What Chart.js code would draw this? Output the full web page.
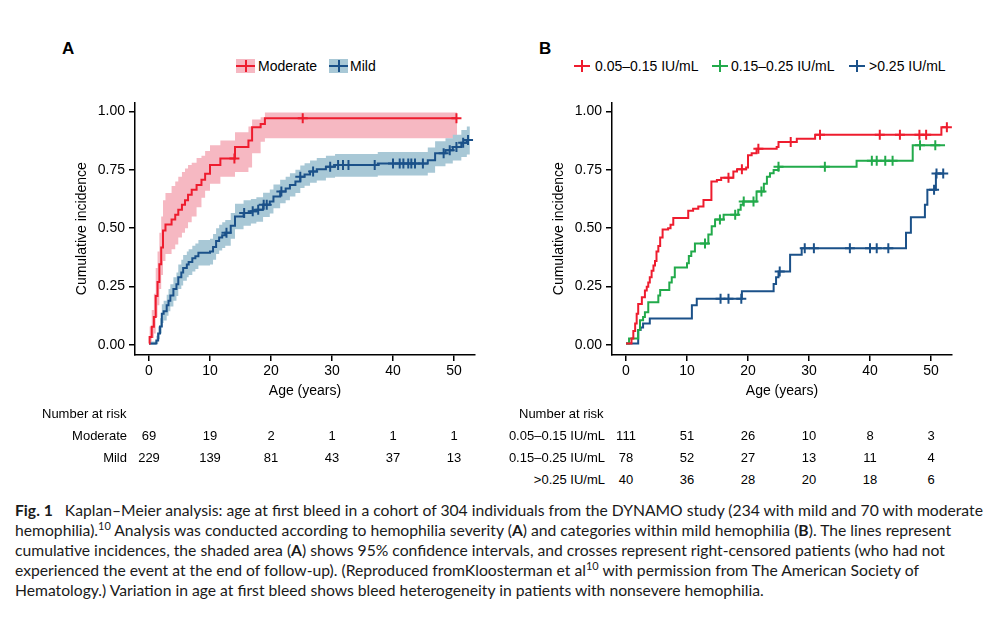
<!DOCTYPE html>
<html>
<head>
<meta charset="utf-8">
<script src="https://cdn.jsdelivr.net/npm/chart.js@4.4.1/dist/chart.umd.min.js"></script>
<style>
  body{margin:0;background:#fff;width:1007px;height:622px;position:relative;overflow:hidden;
       font-family:"Liberation Sans",Arial,sans-serif;color:#000}
  canvas{position:absolute}
  .panel{position:absolute;font-weight:bold;font-size:17px;line-height:1}
  .leg{position:absolute;font-size:14px;line-height:14px;white-space:nowrap}
  .key{position:absolute;height:14px}
  .key i{position:absolute;background:var(--c)}
  .risk{position:absolute;font-size:13px;line-height:1;white-space:nowrap}
  #caption{position:absolute;left:15px;top:500px;line-height:20px;font-family:Lato,"Noto Sans",sans-serif;
           white-space:nowrap;color:#1a1a1a}
  #caption sup{font-size:0.7em;line-height:0;vertical-align:0.55em}
</style>
</head>
<body>

<div class="panel" style="left:62px;top:40px">A</div>
<div class="panel" style="left:539px;top:40px">B</div>

<div id="legendA"></div>
<div id="legendB"></div>

<canvas id="chartA" width="424" height="320" style="left:66px;top:90px"></canvas>
<canvas id="chartB" width="424" height="320" style="left:543px;top:90px"></canvas>

<div id="riskA"></div>
<div id="riskB"></div>

<div id="caption">
<span id="capLine1"><b>Fig. 1</b>&nbsp;&nbsp;&nbsp;Kaplan–Meier analysis: age at first bleed in a cohort of 304 individuals from the DYNAMO study (234 with mild and 70 with moderate</span><br>
hemophilia).<sup>10</sup> Analysis was conducted according to hemophilia severity (<b>A</b>) and categories within mild hemophilia (<b>B</b>). The lines represent<br>
cumulative incidences, the shaded area (<b>A</b>) shows 95% confidence intervals, and crosses represent right-censored patients (who had not<br>
experienced the event at the end of follow-up). (Reproduced fromKloosterman et al<sup>10</sup> with permission from The American Society of<br>
Hematology.) Variation in age at first bleed shows bleed heterogeneity in patients with nonsevere hemophilia.
</div>

<script>
// ---- axes ----
const X_TICKS = [0, 10, 20, 30, 40, 50];
const Y_TICKS = [0, 0.25, 0.5, 0.75, 1];

// ---- panel A: moderate (jump time, cumulative incidence, 95% CI) ----
const modT  = [0, 0.1, 0.45, 0.8, 1.1, 1.4, 1.7, 2.0, 2.3, 2.7, 3.7, 4.3, 4.8, 5.4, 5.9, 6.4, 7.0, 7.8, 8.6, 9.2, 10.0, 11.7, 14.1, 16.3, 16.9, 18.3, 19.0, 50.5];
const modV  = [0.007, 0.035, 0.078, 0.12, 0.21, 0.27, 0.346, 0.417, 0.49, 0.516, 0.537, 0.558, 0.579, 0.60, 0.62, 0.643, 0.664, 0.685, 0.707, 0.733, 0.77, 0.798, 0.847, 0.875, 0.932, 0.946, 0.97, 0.97];
const modHi = [0.02, 0.08, 0.15, 0.22, 0.33, 0.40, 0.48, 0.55, 0.62, 0.65, 0.68, 0.70, 0.72, 0.74, 0.755, 0.77, 0.78, 0.80, 0.81, 0.83, 0.855, 0.875, 0.91, 0.935, 0.965, 0.975, 0.995, 0.995];
const modLo = [0.0, 0.005, 0.03, 0.05, 0.12, 0.17, 0.24, 0.30, 0.36, 0.39, 0.41, 0.43, 0.46, 0.48, 0.50, 0.525, 0.55, 0.59, 0.63, 0.66, 0.69, 0.72, 0.74, 0.76, 0.82, 0.87, 0.885, 0.885];
const modCens = [14.0, 25.2, 50.4];

// ---- panel A: mild ----
const mildT  = [0, 1.2, 1.5, 1.8, 2.1, 2.4, 2.9, 3.2, 3.5, 4.0, 4.5, 4.8, 5.3, 5.6, 6.2, 6.5, 7.1, 7.6, 8.1, 10.0, 10.5, 11.0, 11.5, 12.0, 12.5, 13.4, 14.1, 15.5, 16.7, 17.6, 18.7, 19.8, 20.4, 21.5, 22.4, 23.1, 24.0, 24.8, 25.5, 26.4, 27.5, 29.0, 30.5, 37.5, 45.7, 46.9, 48.6, 49.8, 51.2, 52.1, 52.6];
const mildV  = [0.007, 0.02, 0.05, 0.08, 0.134, 0.145, 0.17, 0.19, 0.212, 0.24, 0.26, 0.29, 0.31, 0.33, 0.345, 0.355, 0.371, 0.38, 0.395, 0.40, 0.42, 0.445, 0.46, 0.47, 0.48, 0.51, 0.55, 0.565, 0.572, 0.579, 0.60, 0.614, 0.636, 0.657, 0.67, 0.685, 0.70, 0.72, 0.73, 0.742, 0.752, 0.763, 0.77, 0.777, 0.791, 0.82, 0.833, 0.847, 0.865, 0.877, 0.877];
const mildHi = [0.015, 0.04, 0.08, 0.115, 0.175, 0.19, 0.215, 0.24, 0.26, 0.29, 0.31, 0.345, 0.365, 0.385, 0.40, 0.41, 0.425, 0.435, 0.45, 0.455, 0.475, 0.50, 0.515, 0.525, 0.535, 0.565, 0.605, 0.62, 0.625, 0.632, 0.652, 0.665, 0.687, 0.707, 0.72, 0.735, 0.75, 0.768, 0.778, 0.79, 0.80, 0.81, 0.817, 0.826, 0.845, 0.872, 0.885, 0.90, 0.92, 0.935, 0.935];
const mildLo = [0.0, 0.005, 0.025, 0.05, 0.095, 0.105, 0.125, 0.145, 0.165, 0.19, 0.21, 0.24, 0.255, 0.275, 0.29, 0.30, 0.315, 0.325, 0.34, 0.345, 0.365, 0.39, 0.405, 0.415, 0.425, 0.455, 0.495, 0.51, 0.52, 0.527, 0.548, 0.563, 0.585, 0.607, 0.62, 0.635, 0.65, 0.672, 0.682, 0.694, 0.704, 0.716, 0.72, 0.725, 0.737, 0.765, 0.777, 0.79, 0.805, 0.815, 0.815];
const mildCens = [12.7, 15.6, 17.0, 17.9, 18.8, 19.3, 21.7, 24.8, 26.9, 29.7, 31.0, 31.8, 32.7, 37.0, 40.0, 41.1, 41.7, 42.5, 43.0, 43.6, 44.9, 48.3, 49.3, 50.4, 51.5, 52.3];

// ---- panel B: FVIII categories ----
const lowT = [0, 0.9, 1.2, 1.5, 1.75, 2.0, 2.6, 3.1, 3.4, 3.65, 3.9, 4.2, 4.5, 4.75, 5.0, 5.3, 5.6, 6.0, 6.9, 7.3, 7.75, 10.2, 11.0, 11.85, 12.7, 14.0, 14.9, 15.6, 17.6, 18.2, 19.7, 20.0, 20.6, 21.4, 24.7, 25.0, 28.0, 31.0, 51.7, 52.6];
const lowV = [0.007, 0.028, 0.06, 0.092, 0.134, 0.176, 0.205, 0.233, 0.25, 0.268, 0.29, 0.318, 0.34, 0.36, 0.40, 0.424, 0.46, 0.494, 0.50, 0.515, 0.544, 0.575, 0.583, 0.593, 0.621, 0.70, 0.706, 0.716, 0.742, 0.752, 0.76, 0.812, 0.82, 0.84, 0.847, 0.869, 0.883, 0.90, 0.932, 0.932];
const lowCens = [16.8, 19.0, 21.7, 27.0, 31.8, 41.6, 44.9, 48.1, 49.2, 52.6];

const midT = [0, 0.5, 2.0, 2.3, 2.8, 3.1, 3.65, 5.3, 5.6, 7.1, 7.5, 8.0, 10.0, 10.3, 10.7, 11.3, 13.5, 14.05, 14.6, 16.0, 18.4, 18.8, 19.2, 21.4, 22.6, 23.1, 23.6, 24.2, 25.0, 37.8, 47.0, 52.3];
const midV = [0.007, 0.028, 0.064, 0.106, 0.12, 0.14, 0.183, 0.212, 0.236, 0.268, 0.29, 0.332, 0.35, 0.381, 0.40, 0.434, 0.473, 0.508, 0.537, 0.558, 0.579, 0.60, 0.614, 0.657, 0.69, 0.72, 0.735, 0.749, 0.763, 0.788, 0.855, 0.855];
const midCens = [12.95, 15.4, 17.9, 19.3, 20.9, 22.2, 25.0, 32.6, 40.3, 41.1, 42.5, 43.7, 48.2, 50.7];

const highT = [0, 2.0, 2.4, 2.8, 3.9, 10.8, 11.6, 19.0, 24.2, 24.6, 25.0, 26.9, 28.8, 45.9, 46.7, 49.0, 49.4, 50.8, 52.0];
const highV = [0.007, 0.064, 0.075, 0.092, 0.114, 0.17, 0.198, 0.23, 0.261, 0.29, 0.315, 0.386, 0.414, 0.48, 0.547, 0.60, 0.664, 0.734, 0.734];
const highCens = [15.5, 16.8, 18.9, 25.2, 29.3, 30.8, 36.7, 40.0, 41.1, 43.0, 50.5, 50.9, 52.0];

// ---- number at risk ----
const riskTimes = [0, 10, 20, 30, 40, 50];
const riskModerate = [69, 19, 2, 1, 1, 1];
const riskMild = [229, 139, 81, 43, 37, 13];
const riskLow = [111, 51, 26, 10, 8, 3];
const riskMid = [78, 52, 27, 13, 11, 4];
const riskHigh = [40, 36, 28, 20, 18, 6];

const RED = '#ee1c2e', PINK = '#f6b8c2', BLUE = '#1b5189', LBLUE = '#a8c8d6', GREEN = '#22aa4b';

Chart.defaults.font.family = '"Liberation Sans", Arial, sans-serif';
Chart.defaults.color = '#000';

function pts(T, V){ return T.map((t, i) => ({x: t, y: V[i]})); }
function valueAt(T, V, t){
  let v = V[0];
  for(let i = 0; i < T.length; i++){ if(T[i] <= t) v = V[i]; }
  return v;
}
function stepLine(T, V, color, order){
  return { data: pts(T, V), borderColor: color, borderWidth: 2, stepped: true,
           pointRadius: 0, fill: false, order };
}
function censors(T, V, C, color){
  return { data: C.map(t => ({x: t, y: valueAt(T, V, t)})), showLine: false,
           pointStyle: 'cross', pointRadius: 5, pointBorderWidth: 2,
           pointBorderColor: color, borderColor: color, order: 0 };
}
function band(T, Hi, Lo, color, order){
  return [
    { data: pts(T, Hi), borderWidth: 0, borderColor: 'transparent', backgroundColor: color,
      stepped: true, pointRadius: 0, fill: '+1', order },
    { data: pts(T, Lo), borderWidth: 0, borderColor: 'transparent',
      stepped: true, pointRadius: 0, fill: false, order }
  ];
}

function options(){
  const tickGrid = { drawOnChartArea: false, drawTicks: true, tickLength: 6, color: '#000', lineWidth: 1.5 };
  return {
    responsive: false, animation: false, devicePixelRatio: 1,
    layout: { padding: { top: 10, right: 15, left: 0, bottom: 0 } },
    plugins: { legend: { display: false }, tooltip: { enabled: false } },
    events: [],
    scales: {
      x: {
        type: 'linear', min: -2.295, max: 53.44,
        afterBuildTicks: s => { s.ticks = X_TICKS.map(v => ({value: v})); },
        afterFit: s => { s.height = 55; },
        grid: tickGrid,
        border: { display: true, color: '#000', width: 1.5 },
        ticks: { font: { size: 14 }, padding: 2, maxRotation: 0 },
        title: { display: true, text: 'Age (years)', font: { size: 14 }, padding: { top: 0, bottom: 10.6 } }
      },
      y: {
        min: -0.0424, max: 1.038,
        afterBuildTicks: s => { s.ticks = Y_TICKS.map(v => ({value: v})); },
        afterFit: s => { s.width = 69; },
        grid: tickGrid,
        border: { display: true, color: '#000', width: 1.5 },
        ticks: { font: { size: 14 }, padding: 4, callback: v => v.toFixed(2) },
        title: { display: true, text: 'Cumulative incidence', font: { size: 14 }, padding: { top: 7.6, bottom: 0 } }
      }
    }
  };
}

const chartA = new Chart(document.getElementById('chartA'), {
  type: 'line',
  data: { datasets: [
    censors(modT, modV, modCens, RED),
    censors(mildT, mildV, mildCens, BLUE),
    stepLine(modT, modV, RED, 1),
    stepLine(mildT, mildV, BLUE, 2),
    ...band(mildT, mildHi, mildLo, LBLUE, 5),
    ...band(modT, modHi, modLo, PINK, 6)
  ]},
  options: options()
});

const chartB = new Chart(document.getElementById('chartB'), {
  type: 'line',
  data: { datasets: [
    censors(lowT, lowV, lowCens, RED),
    censors(midT, midV, midCens, GREEN),
    censors(highT, highV, highCens, BLUE),
    stepLine(lowT, lowV, RED, 1),
    stepLine(midT, midV, GREEN, 2),
    stepLine(highT, highV, BLUE, 3)
  ]},
  options: options()
});

// ---- legends ----
function key(x, y, w, color, bg){
  const k = document.createElement('span');
  k.className = 'key';
  k.style.cssText = `left:${x}px;top:${y}px;width:${w}px;--c:${color};` + (bg ? `background:${bg};` : '');
  k.innerHTML = `<i style="left:0;right:0;top:6px;height:2px"></i><i style="left:${w/2-1}px;width:2px;top:1px;bottom:1px"></i>`;
  document.body.appendChild(k);
}
function legText(x, y, text){
  const t = document.createElement('span');
  t.className = 'leg';
  t.style.left = x + 'px'; t.style.top = y + 'px';
  t.textContent = text;
  document.body.appendChild(t);
}
key(236, 59, 19, RED, PINK);   legText(258, 59, 'Moderate');
key(329, 59, 19, BLUE, LBLUE); legText(350, 59, 'Mild');
key(574, 59, 16, RED);   legText(595, 59, '0.05–0.15 IU/mL');
key(712, 59, 16, GREEN); legText(731, 59, '0.15–0.25 IU/mL');
key(849, 59, 16, BLUE);  legText(869, 59, '>0.25 IU/mL');

// ---- number at risk tables, aligned to the chart's x scale ----
function riskTable(chart, canvasId, headerLeft, labelRight, rows){
  const c = document.getElementById(canvasId);
  const left = c.offsetLeft;
  const add = (html, css) => {
    const d = document.createElement('div');
    d.className = 'risk';
    d.style.cssText = css;
    d.textContent = html;
    document.body.appendChild(d);
  };
  add('Number at risk', `left:${headerLeft}px;top:407px`);
  rows.forEach((r, i) => {
    const top = 429 + i * 22;
    add(r.label, `right:${1007 - labelRight}px;top:${top}px`);
    r.values.forEach((v, j) => {
      const px = left + chart.scales.x.getPixelForValue(riskTimes[j]);
      add(String(v), `left:${px}px;top:${top}px;transform:translateX(-50%)`);
    });
  });
}
riskTable(chartA, 'chartA', 42, 127, [
  { label: 'Moderate', values: riskModerate },
  { label: 'Mild', values: riskMild }
]);
riskTable(chartB, 'chartB', 519, 605, [
  { label: '0.05–0.15 IU/mL', values: riskLow },
  { label: '0.15–0.25 IU/mL', values: riskMid },
  { label: '>0.25 IU/mL', values: riskHigh }
]);

// fit caption font so the first line spans the same width as the original
(function(){
  const cap = document.getElementById('caption');
  cap.style.fontSize = '16px';
  const w = document.getElementById('capLine1').getBoundingClientRect().width;
  cap.style.fontSize = (16 * 968 / w).toFixed(2) + 'px';
})();
</script>
</body>
</html>
